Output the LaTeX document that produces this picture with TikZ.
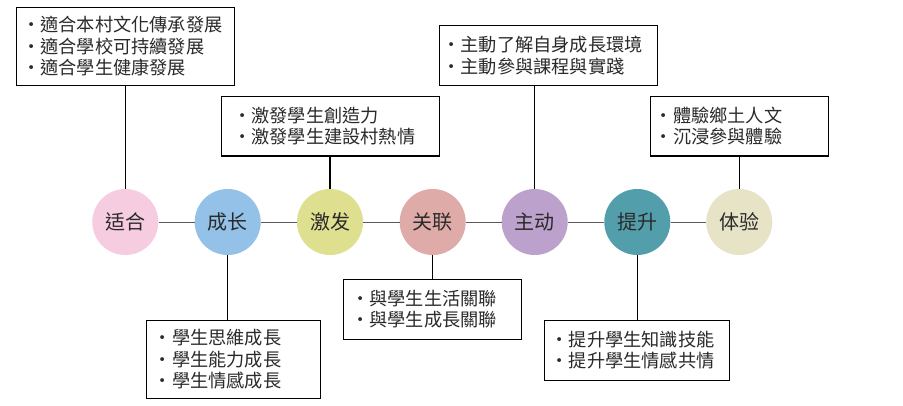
\documentclass[tikz,border=0pt]{standalone}
\usepackage{fontspec}
\setmainfont{Noto Sans CJK TC}
\definecolor{cA}{HTML}{F6CCE0}
\definecolor{cB}{HTML}{93C1E8}
\definecolor{cC}{HTML}{DEE090}
\definecolor{cD}{HTML}{DFABA9}
\definecolor{cE}{HTML}{BBA1CB}
\definecolor{cF}{HTML}{529FAB}
\definecolor{cG}{HTML}{E6E3C7}
\definecolor{txt}{HTML}{2A2A2A}
\definecolor{hl}{HTML}{5A5A5A}
\newcommand\mytightlines{\lineskiplimit=-50pt\relax\lineskip=0pt\relax}
\tikzset{
  circ/.style={circle, minimum size=66pt, inner sep=0pt, draw=none, text=txt,
    font=\fontsize{20}{24}\selectfont},
  boxframe/.style={draw=black, line width=1.1pt, inner sep=0pt, fill=white},
  boxtext/.style={anchor=west, inner sep=0pt, align=left, text=txt,
    font=\fontsize{18.2}{21.3}\selectfont\mytightlines},
  hline/.style={draw=hl, line width=1pt},
  vline/.style={draw=black, line width=1.1pt},
}
\begin{document}
\begin{tikzpicture}[x=1pt,y=-1pt]
\useasboundingbox[fill=white] (0,0) rectangle (903,405);
% circles
\node[circ, fill=cA] (c1) at (125.3,222) {适合};
\node[circ, fill=cB] (c2) at (227.7,222) {成长};
\node[circ, fill=cC] (c3) at (330.0,222) {激发};
\node[circ, fill=cD] (c4) at (432.7,222) {关联};
\node[circ, fill=cE] (c5) at (534.7,222) {主动};
\node[circ, fill=cF] (c6) at (637.3,222) {提升};
\node[circ, fill=cG] (c7) at (739.3,222) {体验};
% horizontal connectors
\draw[hline] (c1) -- (c2);
\draw[hline] (c2) -- (c3);
\draw[hline] (c3) -- (c4);
\draw[hline] (c4) -- (c5);
\draw[hline] (c5) -- (c6);
\draw[hline] (c6) -- (c7);
% boxes
\node[boxframe, minimum width=217.6pt, minimum height=78pt] (b1) at (125.5,46.3) {};
\node[boxtext] (t1) at ([xshift=6pt]b1.west) {・適合本村文化傳承發展\\・適合學校可持續發展\\・適合學生健康發展};
\node[boxframe, minimum width=217.6pt, minimum height=59.3pt] (b2) at (330.5,126.3) {};
\node[boxtext] (t2) at ([xshift=12pt]b2.west) {・激發學生創造力\\・激發學生建設村熱情};
\node[boxframe, minimum width=218pt, minimum height=59.6pt] (b3) at (548.3,55.5) {};
\node[boxtext] (t3) at ([xshift=3.5pt]b3.west) {・主動了解自身成長環境\\・主動參與課程與實踐};
\node[boxframe, minimum width=178.4pt, minimum height=59.3pt] (b4) at (739.5,126.3) {};
\node[boxtext] (t4) at ([xshift=5pt]b4.west) {・體驗鄉土人文\\・沉浸參與體驗};
\node[boxframe, minimum width=174pt, minimum height=78pt] (b5) at (233.7,359.3) {};
\node[boxtext] (t5) at ([xshift=7.6pt]b5.west) {・學生思維成長\\・學生能力成長\\・學生情感成長};
\node[boxframe, minimum width=178pt, minimum height=59.7pt] (b6) at (432.3,309.2) {};
\node[boxtext] (t6) at ([xshift=8.4pt]b6.west) {・與學生生活關聯\\・與學生成長關聯};
\node[boxframe, minimum width=185pt, minimum height=60pt] (b7) at (636.8,350.3) {};
\node[boxtext] (t7) at ([xshift=6.7pt]b7.west) {・提升學生知識技能\\・提升學生情感共情};
% vertical connectors
\draw[vline] (b1.south -| c1) -- (c1);
\draw[vline] (b2.south -| c3) -- (c3);
\draw[vline] (b3.south -| c5) -- (c5);
\draw[vline] (b4.south -| c7) -- (c7);
\draw[vline] (c2) -- (b5.north -| c2);
\draw[vline] (c4) -- (b6.north -| c4);
\draw[vline] (c6) -- (b7.north -| c6);
\end{tikzpicture}
\end{document}
